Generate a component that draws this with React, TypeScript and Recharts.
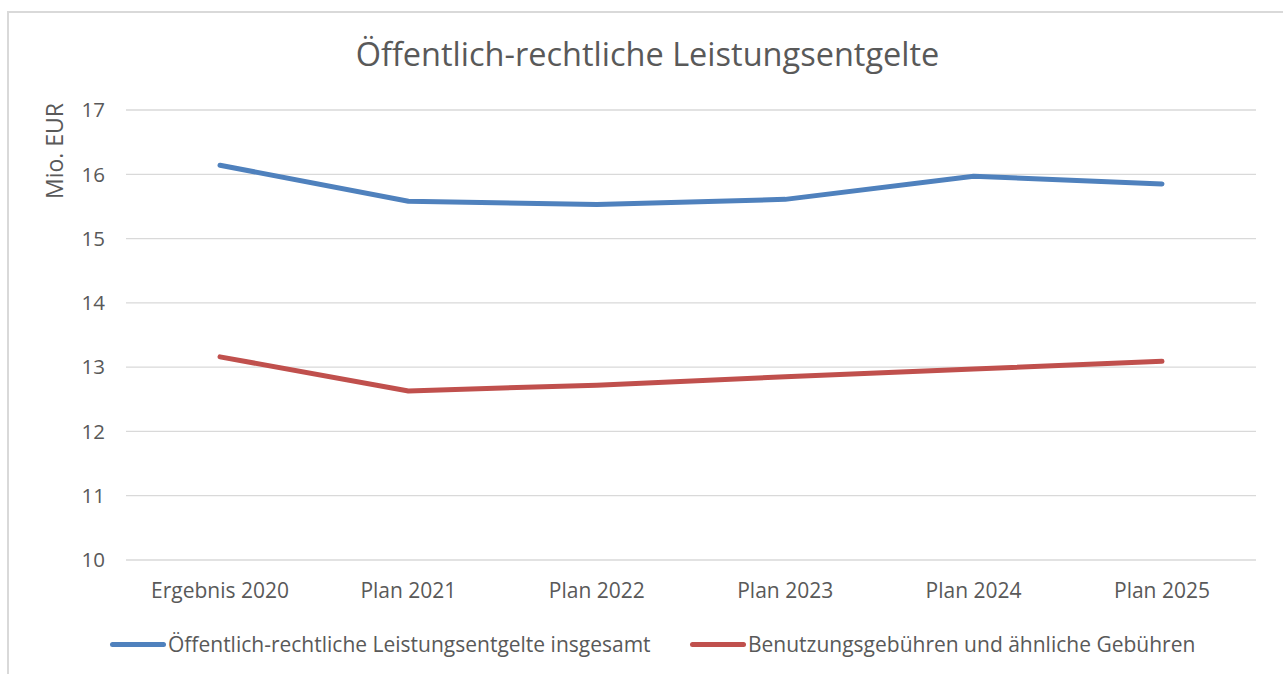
import React from "react";
import { LineChart, Line, XAxis, YAxis, CartesianGrid } from "recharts";

const categories = ["Ergebnis 2020", "Plan 2021", "Plan 2022", "Plan 2023", "Plan 2024", "Plan 2025"];
const totalValues = [16.14, 15.58, 15.53, 15.61, 15.97, 15.85];
const feeValues = [13.16, 12.63, 12.72, 12.85, 12.97, 13.09];
const yTicks = [10, 11, 12, 13, 14, 15, 16, 17];

const seriesNames = {
  total: "Öffentlich-rechtliche Leistungsentgelte insgesamt",
  fees: "Benutzungsgebühren und ähnliche Gebühren",
};

const data = categories.map((c, i) => ({ name: c, total: totalValues[i], fees: feeValues[i] }));

const FONT = "'Open Sans', sans-serif";
const TEXT = "#595959";
const BLUE = "#4f81bd";
const RED = "#c0504d";

const LegendBox = () => {
  const items = [
    { name: seriesNames.total, color: BLUE, left: 110 },
    { name: seriesNames.fees, color: RED, left: 690 },
  ];
  return (
    <div style={{ position: "absolute", left: 0, top: 629, width: 1283, height: 30 }}>
      {items.map((it) => (
        <div
          key={it.name}
          style={{ position: "absolute", left: it.left, top: 0, display: "flex", alignItems: "center", height: 30 }}
        >
          <div style={{ width: 56, height: 5, borderRadius: 3, background: it.color, marginRight: 2 }} />
          <span style={{ fontFamily: FONT, fontSize: 21, color: TEXT, whiteSpace: "nowrap" }}>{it.name}</span>
        </div>
      ))}
    </div>
  );
};

export default function App() {
  return (
    <div style={{ position: "absolute", left: 0, top: 0, width: 1283, height: 674, background: "#fff", overflow: "hidden" }}>
      <div
        style={{
          position: "absolute",
          left: 7,
          top: 11,
          width: 1290,
          height: 700,
          borderTop: "2px solid #d9d9d9",
          borderLeft: "2px solid #d9d9d9",
        }}
      />
      <div
        style={{
          position: "absolute",
          left: 0,
          width: 1295,
          top: 31,
          textAlign: "center",
          fontFamily: FONT,
          fontSize: 32.5,
          color: TEXT,
          whiteSpace: "nowrap",
        }}
      >
        Öffentlich-rechtliche Leistungsentgelte
      </div>
      <div style={{ position: "absolute", left: 0, top: 0 }}>
        <LineChart width={1283} height={674} data={data} margin={{ top: 110, right: 27, bottom: 84, left: 0 }}>
          <CartesianGrid vertical={false} stroke="#d9d9d9" strokeWidth={1.3} />
          <XAxis
            dataKey="name"
            height={30}
            axisLine={false}
            tickLine={false}
            tickMargin={17}
            padding={{ left: 94, right: 94 }}
            tick={{ fill: TEXT, fontSize: 21, fontFamily: FONT }}
            interval={0}
          />
          <YAxis
            width={126}
            domain={[10, 17]}
            ticks={yTicks}
            axisLine={false}
            tickLine={false}
            tickMargin={15}
            tick={{ fill: TEXT, fontSize: 20.5, fontFamily: FONT }}
            label={{
              content: () => (
                <text
                  x={63}
                  y={151}
                  transform="rotate(-90 63 151)"
                  textAnchor="middle"
                  fill={TEXT}
                  fontSize={23}
                  fontFamily={FONT}
                >
                  Mio. EUR
                </text>
              ),
            }}
          />
          <Line
            type="linear"
            dataKey="total"
            name={seriesNames.total}
            stroke={BLUE}
            strokeWidth={5}
            strokeLinecap="round"
            strokeLinejoin="round"
            dot={false}
            activeDot={false}
            isAnimationActive={false}
          />
          <Line
            type="linear"
            dataKey="fees"
            name={seriesNames.fees}
            stroke={RED}
            strokeWidth={5}
            strokeLinecap="round"
            strokeLinejoin="round"
            dot={false}
            activeDot={false}
            isAnimationActive={false}
          />
        </LineChart>
      </div>
      <LegendBox />
    </div>
  );
}
